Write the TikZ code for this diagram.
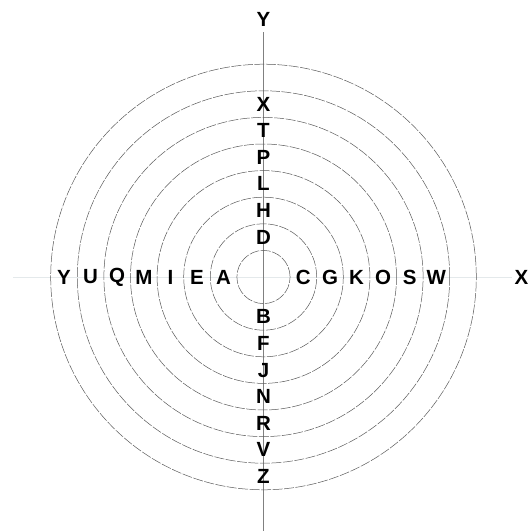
\documentclass[tikz,border=0pt]{standalone}
\usepackage{fontspec}
\setmainfont{Liberation Sans}
\usetikzlibrary{positioning}

\begin{document}
\begin{tikzpicture}[x=1pt, y=1pt,
                ring/.style={draw=black!65, line width=0.5pt, dash pattern=on 10pt off 1.5pt},
                vaxis/.style={draw=black!50, line width=0.7pt},
                haxis/.style={draw=cyan!25!black!12, line width=0.8pt},
                letter/.style={font=\bfseries\fontsize{20.5}{20.5}\selectfont, inner sep=0pt},
                axlabel/.style={font=\bfseries\fontsize{20.5}{20.5}\selectfont, inner sep=0pt}]
                \useasboundingbox (-263.5,-254) rectangle (266.5,277);
                \coordinate (o) at (0,0);
                \coordinate (bottom) at (0,-254);
                \coordinate (left) at (-250.5,0);
                \coordinate (right) at (248.5,0);
                \node[axlabel] (ylab) at (0,258) {Y};
                \node[axlabel] (xlab) at (258,0) {X};
                \draw[haxis] (left) -- (right);
                \draw[vaxis] (bottom) -- ([yshift=-6pt]ylab.south);
                \foreach \k in {1,...,8}
                    \draw[ring] (o) circle (26.6*\k);
                \foreach \ch [count=\i from 0] in {A,B,C,D,E,F,G,H,I,J,K,L,M,N,O,P,Q,R,S,T,U,V,W,X,Y,Z}
                    \node[letter] (\ch) at ({180+90*mod(\i,4)}:{(int(\i/4)+1.5)*26.6}) {\ch};
            \end{tikzpicture}
\end{document}
